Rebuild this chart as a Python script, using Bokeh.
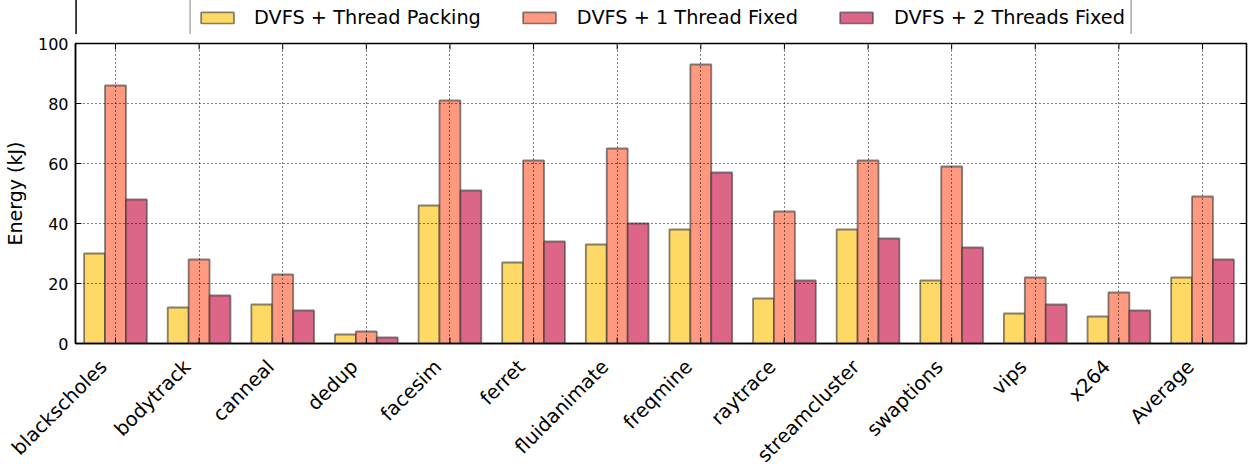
import numpy as np
from bokeh.plotting import figure
from bokeh.layouts import column
from bokeh.models import Range1d, FixedTicker, Legend, LegendItem, ColumnDataSource
from bokeh.embed import file_html
from bokeh.resources import INLINE

# Energy per PARSEC benchmark (kJ)
benchmarks = ["blackscholes", "bodytrack", "canneal", "dedup", "facesim", "ferret",
              "fluidanimate", "freqmine", "raytrace", "streamcluster", "swaptions",
              "vips", "x264", "Average"]
thread_packing = [30, 12, 13, 3, 46, 27, 33, 38, 15, 38, 21, 10, 9, 22]
one_thread_fixed = [86, 28, 23, 4, 81, 61, 65, 93, 44, 61, 59, 22, 17, 49]
two_threads_fixed = [48, 16, 11, 2, 51, 34, 40, 57, 21, 35, 32, 13, 11, 28]
series_labels = ["DVFS + Thread Packing", "DVFS + 1 Thread Fixed", "DVFS + 2 Threads Fixed"]
series_colors = ["#FFD966", "#FF9980", "#DD6688"]
y_ticks = [0, 20, 40, 60, 80, 100]

FONT = "DejaVu Sans"
bar_w = 0.25
label_shift = 0.143          # names sit slightly left of their group, right-aligned
idx = [float(i) for i in range(len(benchmarks))]
x_lo, x_hi = -0.478, 13.526
y_lo, y_hi = 0, 100
bar_style = dict(line_color="#333333", line_alpha=0.6, line_width=1.8)
all_series = [thread_packing, one_thread_fixed, two_threads_fixed]

p = figure(frame_width=1171, frame_height=300, output_backend="svg", toolbar_location=None,
           x_range=Range1d(x_lo, x_hi), y_range=Range1d(y_lo, y_hi),
           min_border_left=75, min_border_right=9, min_border_top=9,
           min_border_bottom=0)
p.background_fill_color = "white"
p.border_fill_color = "white"
p.outline_line_color = "black"
p.outline_line_width = 1.5

sources = []
for k, (vals, color) in enumerate(zip(all_series, series_colors)):
    src = ColumnDataSource(dict(x=[i + (k - 1) * bar_w for i in idx], top=vals))
    sources.append(src)
    p.vbar(x="x", top="top", width=bar_w, bottom=0, source=src, fill_color=color,
           **bar_style)

# bottom axis carries the rotated benchmark names
label_pos = [i - label_shift for i in idx]
p.xaxis.ticker = FixedTicker(ticks=label_pos)
p.xaxis.major_label_overrides = {pos: name for pos, name in zip(label_pos, benchmarks)}
p.xaxis.major_label_orientation = np.pi / 4
p.xaxis.major_label_text_font = FONT
p.xaxis.major_label_text_font_size = "19.5px"
p.xaxis.major_label_text_color = "black"
p.xaxis.major_label_standoff = 14
p.xaxis.major_tick_line_color = None
p.xaxis.minor_tick_line_color = None
p.xaxis.axis_line_color = "black"
p.xaxis.axis_line_width = 1.5

# left axis
p.yaxis.ticker = FixedTicker(ticks=y_ticks)
p.yaxis.axis_label = "Energy (kJ)"
p.yaxis.axis_label_text_font = FONT
p.yaxis.axis_label_text_font_size = "19px"
p.yaxis.axis_label_text_font_style = "normal"
p.yaxis.axis_label_text_color = "black"
p.yaxis.axis_label_standoff = 9
p.yaxis.major_label_text_font = FONT
p.yaxis.major_label_text_font_size = "16px"
p.yaxis.major_label_text_color = "black"
p.yaxis.major_label_standoff = 7
p.yaxis.major_tick_in = 6
p.yaxis.major_tick_out = 0
p.yaxis.minor_tick_line_color = None
p.yaxis.axis_line_color = "black"
p.yaxis.axis_line_width = 1.5

# inward ticks at each group along the bottom and top edges, and on the right edge
p.ray(x=idx, y=[y_lo] * len(idx), length=6, length_units="screen",
      angle=np.pi / 2, line_color="black", line_width=1)
p.ray(x=idx, y=[y_hi] * len(idx), length=6, length_units="screen",
      angle=-np.pi / 2, line_color="black", line_width=1)
p.ray(x=[x_hi] * len(y_ticks), y=y_ticks, length=6, length_units="screen",
      angle=np.pi, line_color="black", line_width=1)

# dotted grid drawn over the bars
for g in (p.xgrid, p.ygrid):
    g.grid_line_color = "black"
    g.grid_line_dash = "1 3"
    g.grid_line_width = 1
    g.level = "overlay"
p.xgrid.ticker = FixedTicker(ticks=idx)
p.ygrid.ticker = FixedTicker(ticks=y_ticks)

# legend strip above the chart; its swatch renderers reuse the series data
# but sit on a range that keeps them out of view
lf = figure(width=1255, height=34, output_backend="svg", toolbar_location=None,
            x_axis_location=None, y_axis_location=None,
            x_range=Range1d(1000, 1001), y_range=Range1d(0, 1),
            min_border_left=75, min_border_right=9, min_border_top=0, min_border_bottom=0)
lf.outline_line_color = None
lf.background_fill_color = "white"
lf.border_fill_color = "white"
lf.grid.visible = False
swatches = [lf.vbar(x="x", top="top", width=bar_w, bottom=0, source=src,
                    fill_color=color, **bar_style)
            for src, color in zip(sources, series_colors)]
legend = Legend(items=[LegendItem(label=lab, renderers=[r])
                       for lab, r in zip(series_labels, swatches)],
                orientation="horizontal", location="center",
                border_line_color="black", border_line_width=1.5,
                background_fill_color="white", background_fill_alpha=1.0,
                label_text_font=FONT, label_text_font_size="19.3px",
                label_text_color="black", label_height=19,
                glyph_width=41, glyph_height=14, label_standoff=17,
                spacing=38, padding=6, margin=0)
lf.add_layout(legend, "center")

layout = column(lf, p, spacing=0)
open("out.html", "w").write(file_html(layout, INLINE))
